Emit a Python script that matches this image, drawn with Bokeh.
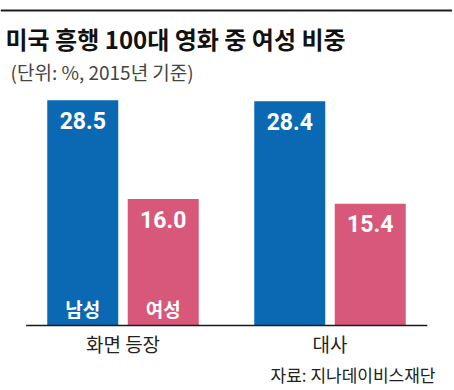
from bokeh.plotting import figure
from bokeh.models import ColumnDataSource, FactorRange, Range1d, Label, Span
from bokeh.transform import dodge
from bokeh.core.properties import value
from bokeh.embed import file_html
from bokeh.resources import INLINE

categories = ["화면 등장", "대사"]
series = ["남성", "여성"]
male = [28.5, 28.4]
female = [16.0, 15.4]
colors = ["#0b69b3", "#d8587a"]
title_text = "미국 흥행 100대 영화 중 여성 비중"
subtitle_text = "(단위: %, 2015년 기준)"
source_text = "자료: 지나데이비스재단"

KR = "Noto Sans CJK KR"

src = ColumnDataSource(dict(
    cat=categories,
    male=male,
    female=female,
    male_lbl=[f"{v:.1f}" for v in male],
    female_lbl=[f"{v:.1f}" for v in female],
))

W, H = 452, 388
BASE = 325      # baseline, px from top
PX_PER_UNIT = 7.9

p = figure(width=W, height=H,
           x_range=FactorRange(factors=categories, range_padding=0.0918,
                               range_padding_units="absolute"),
           y_range=Range1d(-(H - BASE) / PX_PER_UNIT, BASE / PX_PER_UNIT),
           output_backend="svg", toolbar_location=None,
           min_border=0, min_border_left=0, min_border_right=0,
           min_border_top=0, min_border_bottom=0)
p.outline_line_color = None
p.grid.visible = False
p.axis.visible = False
p.background_fill_color = "white"
p.border_fill_color = "white"

off = 0.1944
bw = 0.343
p.vbar(x=dodge("cat", -off, range=p.x_range), top="male", width=bw,
       source=src, fill_color=colors[0], line_color=None)
p.vbar(x=dodge("cat", off, range=p.x_range), top="female", width=bw,
       source=src, fill_color=colors[1], line_color=None)

for col, lbl, o in (("male", "male_lbl", -off), ("female", "female_lbl", off)):
    p.text(x=dodge("cat", o, range=p.x_range), y=col, text=lbl, source=src,
           text_color="white", text_font=value("Roboto"), text_font_style="bold",
           text_font_size="23px", text_align="center", text_baseline="middle",
           y_offset=20)

# series names inside first group's bars
for s, o in zip(series, (-off, off)):
    ssrc = ColumnDataSource(dict(cat=[categories[0]], y=[0], t=[s]))
    p.text(x=dodge("cat", o, range=p.x_range), y="y", text="t", source=ssrc,
           text_color="white", text_font=value(KR), text_font_style="bold",
           text_font_size="19px", text_align="center", text_baseline="middle",
           y_offset=-17)

# baseline across both groups
bsrc = ColumnDataSource(dict(c0=[categories[0]], c1=[categories[-1]], y=[0]))
p.segment(x0=dodge("c0", -0.468, range=p.x_range), y0="y",
          x1=dodge("c1", 0.47, range=p.x_range), y1="y",
          source=bsrc, line_color="#1a1a1a", line_width=1.3)

# category labels
p.text(x="cat", y=0, text="cat", source=src,
       text_color="#222222", text_font=value(KR), text_font_size="19px",
       text_align="center", text_baseline="middle", y_offset=18)

# top rule
p.add_layout(Span(location=H - 10, location_units="screen", dimension="width",
                  line_color="#1e1e1e", line_width=2))

p.add_layout(Label(x=5, y=H - 37.5, x_units="screen", y_units="screen",
                   text=title_text, text_font=KR, text_font_style="bold",
                   text_font_size="24px", text_color="#111111",
                   text_baseline="middle", text_align="left"))
p.add_layout(Label(x=10, y=H - 71, x_units="screen", y_units="screen",
                   text=subtitle_text, text_font=KR,
                   text_font_size="19px", text_color="#444444",
                   text_baseline="middle", text_align="left"))
p.add_layout(Label(x=435, y=H - 374, x_units="screen", y_units="screen",
                   text=source_text, text_font=KR,
                   text_font_size="17px", text_color="#222222",
                   text_baseline="middle", text_align="right"))

open("out.html", "w").write(file_html(p, INLINE))
